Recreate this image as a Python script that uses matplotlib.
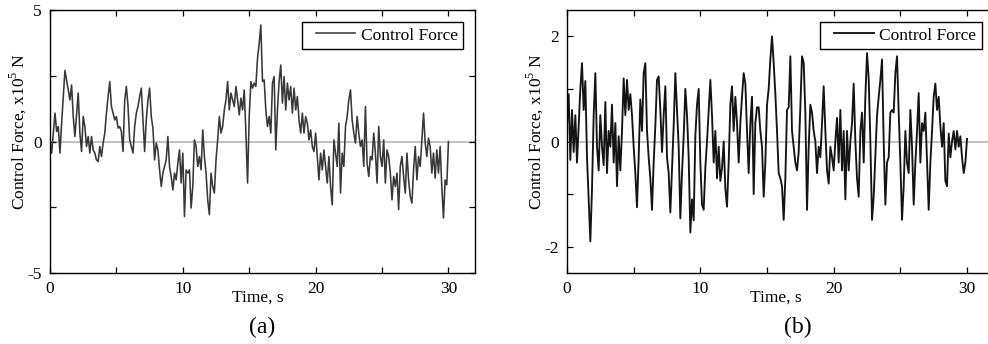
import numpy as np
import matplotlib
matplotlib.use("Agg")
import matplotlib.pyplot as plt
from matplotlib.legend_handler import HandlerLine2D

plt.rcParams['font.family'] = ['Liberation Serif', 'DejaVu Serif']
plt.rcParams['axes.unicode_minus'] = False
plt.rcParams['mathtext.fontset'] = 'custom'
plt.rcParams['mathtext.rm'] = 'Liberation Serif'

# control force, x10^5 N, sampled every 0.125 s from 0 to 30 s
force_a = [
    0.0, -0.44, 0.32, 1.08, 0.38, 0.57, -0.44, 0.70, 1.71, 2.70,
    2.34, 1.96, 1.58, 2.15, 0.95, 0.19, 1.01, 1.84, 0.32, -0.38,
    0.95, 0.57, -0.19, 0.19, -0.44, 0.19, -0.32, -0.44, -0.70, -0.76,
    -0.19, -0.57, -0.06, 0.32, 1.08, 1.71, 2.28, 1.33, 1.08, 0.82,
    0.95, 0.51, 0.57, 0.38, -0.38, 1.58, 2.09, 1.33, 0.06, -0.19,
    -0.44, 0.57, 1.08, 1.33, 1.71, 2.03, 0.82, -0.38, 0.82, 1.58,
    2.03, 0.95, 0.51, -0.70, -0.06, -0.32, -1.08, -1.71, -1.20, -0.95,
    -0.70, 0.19, -0.95, -1.33, -1.84, -1.20, -1.46, -0.82, -0.32, -1.58,
    -0.44, -2.85, -1.08, -1.20, -1.08, -2.53, -1.71, 0.06, -0.19, -0.95,
    -0.57, -1.08, 0.44, -0.57, -1.20, -2.22, -2.78, -1.20, -1.71, -1.96,
    -0.70, 0.06, 0.95, 0.32, 0.57, 1.20, 1.58, 2.28, 1.20, 1.84,
    1.58, 1.33, 2.09, 1.58, 1.01, 1.65, 1.20, 1.96, 0.32, -1.58,
    0.95, 2.28, 2.03, 2.22, 2.09, 3.16, 3.73, 4.43, 2.28, 2.34,
    1.20, 0.57, 0.95, 0.32, 2.22, 2.47, -0.32, 1.20, 2.28, 2.91,
    1.46, 2.47, 1.20, 2.22, 1.58, 2.09, 1.08, 2.03, 1.20, 1.71,
    0.82, 0.32, 1.08, 0.32, 0.95, 0.70, 0.06, 0.44, -0.19, -0.38,
    0.32, -0.57, -1.46, -0.44, -1.08, -0.32, -0.95, -1.58, -0.57, -1.71,
    -2.41, 0.06, -0.44, -0.95, 0.70, -1.96, -0.44, -0.95, 0.57, 0.95,
    1.58, 1.96, 0.82, 0.32, -0.06, 0.95, 0.32, -0.19, 0.06, -0.95,
    1.33, -0.82, -1.33, -0.57, -0.70, 0.32, -0.44, -1.58, 0.57, -0.57,
    -0.95, 0.06, -1.58, -0.32, -0.57, -1.20, -2.22, -1.33, -1.71, -1.20,
    -2.59, -0.95, -0.57, -1.33, -1.96, -0.44, -1.46, -2.09, -2.34, -1.08,
    -0.19, -1.46, -0.57, -0.95, 0.06, 1.08, -0.06, -0.57, 0.13, -0.19,
    -1.20, -0.44, -1.39, -0.32, -1.20, -0.19, -1.71, -2.91, -1.46, -1.65,
    0.0,
]

force_b = [
    0.30, 0.90, -0.35, 0.60, -0.20, 0.50, -0.40, 0.30, 1.00, 1.49,
    0.60, 1.15, -0.30, -1.10, -1.90, -0.90, 0.50, 1.30, -0.10, -0.55,
    0.50, -0.10, -0.45, 0.75, -0.60, 0.20, -0.10, 0.70, -0.40, 0.35,
    -0.85, 0.10, -0.55, 0.20, 1.20, 0.50, 1.17, 0.60, 0.90, 0.50,
    -0.10, -0.60, -1.25, -0.30, 0.80, 0.20, 1.30, 1.49, 0.20, -0.30,
    -0.70, -1.30, -0.40, 0.30, 1.17, 1.24, 0.60, -0.20, 0.50, 1.05,
    -0.30, -0.60, -1.35, -0.50, 0.30, 1.30, 0.60, -0.10, -1.46, -0.60,
    0.10, 1.00, 0.50, -0.30, -1.73, -1.10, -1.50, 0.10, 0.70, 1.00,
    -0.40, -1.20, -1.30, -0.50, 0.00, 0.60, 1.17, 0.50, -0.40, 0.20,
    -0.70, -0.10, -0.75, -0.50, 0.00, -0.90, -1.24, -0.40, 0.70, 1.05,
    0.20, 0.85, 0.35, -0.40, 0.35, 0.85, 1.30, 1.10, 0.20, -0.60,
    0.35, 0.85, -1.00, 0.35, 0.65, 0.65, 0.20, -0.10, -1.05, -0.40,
    0.70, 1.00, 1.56, 2.00, 1.50, 0.90, 0.20, -0.60, -0.70, -0.85,
    -1.49, -0.70, 0.60, 0.65, 1.62, 0.20, -0.10, -0.40, -0.55, -0.20,
    0.65, 1.62, 1.50, 0.55, -1.30, -0.10, 0.70, 0.55, 0.20, 0.00,
    -0.60, -0.10, -0.30, 0.35, 1.05, 0.20, -0.55, -0.80, -0.10, -0.30,
    -0.55, 0.00, 0.45, -0.40, 0.60, -0.55, 0.20, -1.10, 0.20, -0.55,
    0.00, 0.35, 1.10, 0.00, -0.70, -1.05, 0.20, 0.55, -0.40, 0.85,
    1.68, 1.20, 0.00, -1.49, -1.05, -0.30, 0.50, 0.85, 1.17, 1.56,
    0.00, -1.20, -0.40, -0.30, 0.55, 0.60, 0.55, 1.30, 1.62, 0.55,
    -0.40, -1.49, -0.85, 0.20, -0.40, -0.60, 0.60, -0.10, -1.20, -0.40,
    0.20, 0.92, -0.40, 0.35, 0.20, 0.55, -0.40, -1.30, -0.40, 0.20,
    0.85, 1.10, 0.60, 0.85, 0.30, -0.10, 0.35, -0.75, -0.85, 0.15,
    -0.30, 0.00, 0.20, -0.15, 0.20, -0.10, 0.10, -0.30, -0.60, -0.40,
    0.05,
]

t_a = np.linspace(0, 30, len(force_a))
t_b = np.linspace(0, 30, len(force_b))

panels = [
    dict(t=t_a, f=force_a, color='#383838', lw=1.15, ylim=(-5, 5), yticks=[-5, 0, 5],
         yminor=[-2.5, 2.5], pos=[50, 273, 425, 263], tag='(a)', tagx=262, xlabx=258),
    dict(t=t_b, f=force_b, color='#141414', lw=1.35, ylim=(-2.5, 2.5), yticks=[-2, 0, 2],
         yminor=[-1, 1], pos=[567, 273, 426.7, 263], tag='(b)', tagx=798, xlabx=776),
]


class ShortLine(HandlerLine2D):
    # legend line drawn only over the right part of the handle box
    def create_artists(self, legend, orig_handle, xdescent, ydescent,
                       width, height, fontsize, trans):
        arts = super().create_artists(legend, orig_handle, xdescent, ydescent,
                                      width, height, fontsize, trans)
        y = arts[0].get_ydata()[0]
        arts[0].set_data([-xdescent + 0.18 * width, -xdescent + width], [y, y])
        return arts


W, H = 988, 344
fig = plt.figure(figsize=(W / 100, H / 100), dpi=100)

for p in panels:
    x0, ybot, w, h = p['pos']
    ax = fig.add_axes([x0 / W, (H - ybot) / H, w / W, h / H])
    ax.axhline(0, color='#bdbdbd', lw=1.3, zorder=1)
    line, = ax.plot(p['t'], p['f'], color=p['color'], lw=p['lw'],
                    label='Control Force', zorder=2)
    ax.set_xlim(0, 32)
    ax.set_ylim(*p['ylim'])
    ax.set_xticks([0, 10, 20, 30])
    ax.set_xticks([5, 15, 25], minor=True)
    ax.set_yticks(p['yticks'])
    ax.set_yticks(p['yminor'], minor=True)
    ax.tick_params(which='both', direction='in', top=True, right=True,
                   length=4, width=0.9, labelsize=12.5, pad=6)
    for s in ax.spines.values():
        s.set_linewidth(1.0)

    ax.set_ylabel(r'Control Force, x10$^5$ N', fontsize=12.5, va='center')
    ax.yaxis.set_label_coords(-0.075, 0.54)
    fig.text(p['xlabx'] / W, 1 - 298 / H, 'Time, s', fontsize=12.5,
             ha='center', va='center')
    fig.text(p['tagx'] / W, 1 - 327 / H, p['tag'], fontsize=17,
             ha='center', va='center')

    leg = ax.legend(loc='upper right', fontsize=12.5, fancybox=False,
                    framealpha=1, edgecolor='black', borderaxespad=0.7,
                    handlelength=2.8, handletextpad=0.3, borderpad=0.3,
                    handler_map={line: ShortLine()})
    leg.get_frame().set_linewidth(1.0)

fig.savefig('out.png', dpi=100)
